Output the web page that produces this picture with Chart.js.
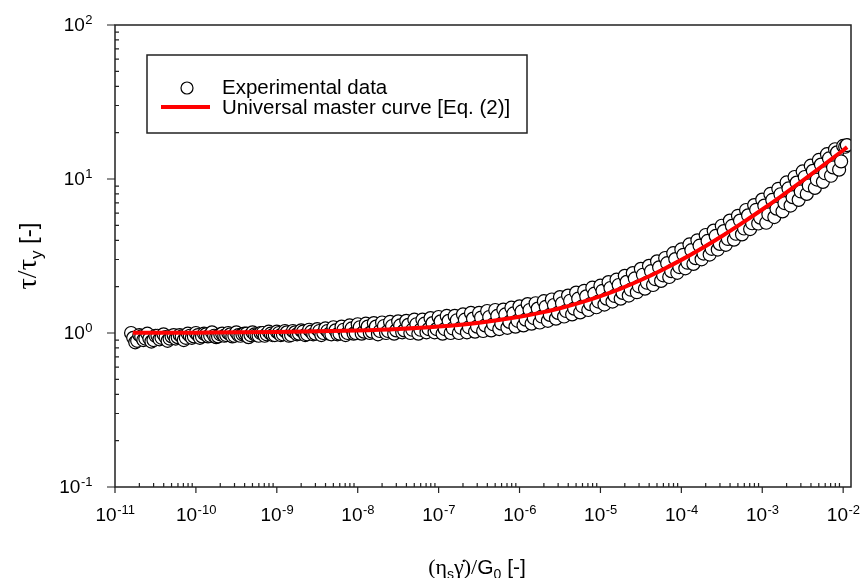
<!DOCTYPE html>
<html>
<head>
<meta charset="utf-8">
<script src="https://cdn.jsdelivr.net/npm/chart.js@4"></script>
<style>
  html, body { margin: 0; padding: 0; background: #fff; }
  #wrap { width: 862px; height: 578px; }
</style>
</head>
<body>
<div id="wrap"><canvas id="chartCanvas" width="862" height="578"></canvas></div>
<script>
// experimental points, outer upper strand
const upperX = [
  1.58e-11, 2.00e-11, 2.51e-11, 3.16e-11, 3.98e-11, 5.01e-11, 6.31e-11, 7.94e-11,
  1.00e-10, 1.26e-10, 1.58e-10, 2.00e-10, 2.51e-10, 3.16e-10, 3.98e-10, 5.01e-10, 6.31e-10, 7.94e-10,
  1.00e-9, 1.26e-9, 1.58e-9, 2.00e-9, 2.51e-9, 3.16e-9, 3.98e-9, 5.01e-9, 6.31e-9, 7.94e-9,
  1.00e-8, 1.26e-8, 1.58e-8, 2.00e-8, 2.51e-8, 3.16e-8, 3.98e-8, 5.01e-8, 6.31e-8, 7.94e-8,
  1.00e-7, 1.26e-7, 1.58e-7, 2.00e-7, 2.51e-7, 3.16e-7, 3.98e-7, 5.01e-7, 6.31e-7, 7.94e-7,
  1.00e-6, 1.26e-6, 1.58e-6, 2.00e-6, 2.51e-6, 3.16e-6, 3.98e-6, 5.01e-6, 6.31e-6, 7.94e-6,
  1.00e-5, 1.26e-5, 1.58e-5, 2.00e-5, 2.51e-5, 3.16e-5, 3.98e-5, 5.01e-5, 6.31e-5, 7.94e-5,
  1.00e-4, 1.26e-4, 1.58e-4, 2.00e-4, 2.51e-4, 3.16e-4, 3.98e-4, 5.01e-4, 6.31e-4, 7.94e-4,
  1.00e-3, 1.26e-3, 1.58e-3, 2.00e-3, 2.51e-3, 3.16e-3, 3.98e-3, 5.01e-3, 6.31e-3, 7.94e-3,
  1.00e-2, 1.11e-2
];
const upperY = [
  1.00, 0.97, 0.99, 0.96, 0.98, 0.95, 0.97, 0.99,
  1.00, 0.99, 1.01, 0.98, 1.00, 1.01, 0.99, 1.01, 1.00, 1.02,
  1.02, 1.03, 1.03, 1.04, 1.05, 1.06, 1.07, 1.09, 1.10, 1.12,
  1.14, 1.15, 1.16, 1.17, 1.18, 1.19, 1.20, 1.22, 1.22, 1.25,
  1.27, 1.29, 1.29, 1.32, 1.35, 1.35, 1.39, 1.41, 1.42, 1.46,
  1.49, 1.54, 1.56, 1.61, 1.65, 1.71, 1.75, 1.83, 1.88, 1.97,
  2.03, 2.14, 2.22, 2.35, 2.45, 2.61, 2.73, 2.92, 3.07, 3.30,
  3.49, 3.76, 4.00, 4.33, 4.62, 4.97, 5.37, 5.77, 6.29, 6.77,
  7.35, 8.00, 8.64, 9.50, 10.3, 11.2, 12.2, 13.3, 14.5, 15.6,
  16.4, 16.6
];
// inner upper strand
const upperMidX = [
  1.68e-11, 2.11e-11, 2.66e-11, 3.35e-11, 4.22e-11, 5.31e-11, 6.68e-11, 8.41e-11,
  1.06e-10, 1.33e-10, 1.68e-10, 2.11e-10, 2.66e-10, 3.35e-10, 4.22e-10, 5.31e-10, 6.68e-10, 8.41e-10,
  1.06e-9, 1.33e-9, 1.68e-9, 2.11e-9, 2.66e-9, 3.35e-9, 4.22e-9, 5.31e-9, 6.68e-9, 8.41e-9,
  1.06e-8, 1.33e-8, 1.68e-8, 2.11e-8, 2.66e-8, 3.35e-8, 4.22e-8, 5.31e-8, 6.68e-8, 8.41e-8,
  1.06e-7, 1.33e-7, 1.68e-7, 2.11e-7, 2.66e-7, 3.35e-7, 4.22e-7, 5.31e-7, 6.68e-7, 8.41e-7,
  1.06e-6, 1.33e-6, 1.68e-6, 2.11e-6, 2.66e-6, 3.35e-6, 4.22e-6, 5.31e-6, 6.68e-6, 8.41e-6,
  1.06e-5, 1.33e-5, 1.68e-5, 2.11e-5, 2.66e-5, 3.35e-5, 4.22e-5, 5.31e-5, 6.68e-5, 8.41e-5,
  1.06e-4, 1.33e-4, 1.68e-4, 2.11e-4, 2.66e-4, 3.35e-4, 4.22e-4, 5.31e-4, 6.68e-4, 8.41e-4,
  1.06e-3, 1.33e-3, 1.68e-3, 2.11e-3, 2.66e-3, 3.35e-3, 4.22e-3, 5.31e-3, 6.68e-3, 8.41e-3,
  1.06e-2
];
const upperMidY = [
  0.93, 0.95, 0.92, 0.96, 0.94, 0.97, 0.95, 0.96,
  0.97, 0.98, 0.96, 0.99, 0.98, 0.97, 0.99, 0.98, 1.00, 0.99,
  1.00, 1.01, 1.01, 1.02, 1.02, 1.03, 1.03, 1.04, 1.05, 1.07,
  1.09, 1.10, 1.10, 1.11, 1.11, 1.12, 1.13, 1.14, 1.15, 1.16,
  1.19, 1.20, 1.21, 1.22, 1.24, 1.26, 1.27, 1.29, 1.32, 1.34,
  1.38, 1.41, 1.44, 1.48, 1.52, 1.56, 1.62, 1.67, 1.73, 1.80,
  1.88, 1.96, 2.05, 2.15, 2.26, 2.39, 2.52, 2.67, 2.84, 3.02,
  3.22, 3.45, 3.69, 3.96, 4.27, 4.59, 4.96, 5.37, 5.81, 6.31,
  6.72, 7.31, 7.96, 8.68, 9.47, 10.3, 11.3, 12.4, 13.6, 14.9,
  16.2
];
// outer lower strand
const lowerX = [
  1.78e-11, 2.24e-11, 2.82e-11, 3.55e-11, 4.47e-11, 5.62e-11, 7.08e-11, 8.91e-11,
  1.12e-10, 1.41e-10, 1.78e-10, 2.24e-10, 2.82e-10, 3.55e-10, 4.47e-10, 5.62e-10, 7.08e-10, 8.91e-10,
  1.12e-9, 1.41e-9, 1.78e-9, 2.24e-9, 2.82e-9, 3.55e-9, 4.47e-9, 5.62e-9, 7.08e-9, 8.91e-9,
  1.12e-8, 1.41e-8, 1.78e-8, 2.24e-8, 2.82e-8, 3.55e-8, 4.47e-8, 5.62e-8, 7.08e-8, 8.91e-8,
  1.12e-7, 1.41e-7, 1.78e-7, 2.24e-7, 2.82e-7, 3.55e-7, 4.47e-7, 5.62e-7, 7.08e-7, 8.91e-7,
  1.12e-6, 1.41e-6, 1.78e-6, 2.24e-6, 2.82e-6, 3.55e-6, 4.47e-6, 5.62e-6, 7.08e-6, 8.91e-6,
  1.12e-5, 1.41e-5, 1.78e-5, 2.24e-5, 2.82e-5, 3.55e-5, 4.47e-5, 5.62e-5, 7.08e-5, 8.91e-5,
  1.12e-4, 1.41e-4, 1.78e-4, 2.24e-4, 2.82e-4, 3.55e-4, 4.47e-4, 5.62e-4, 7.08e-4, 8.91e-4,
  1.12e-3, 1.41e-3, 1.78e-3, 2.24e-3, 2.82e-3, 3.55e-3, 4.47e-3, 5.62e-3, 7.08e-3, 8.91e-3
];
const lowerY = [
  0.87, 0.90, 0.88, 0.91, 0.89, 0.92, 0.90, 0.93,
  0.93, 0.95, 0.94, 0.96, 0.95, 0.96, 0.94, 0.97, 0.96, 0.97,
  0.97, 0.96, 0.98, 0.97, 0.98, 0.97, 0.99, 0.98, 0.97, 0.99,
  0.99, 1.00, 0.98, 1.00, 0.99, 1.01, 1.00, 0.99, 1.01, 1.01,
  0.99, 1.00, 1.00, 1.01, 1.02, 1.03, 1.04, 1.06, 1.08, 1.10,
  1.12, 1.15, 1.17, 1.20, 1.24, 1.28, 1.32, 1.36, 1.41, 1.47,
  1.53, 1.60, 1.67, 1.75, 1.84, 1.94, 2.05, 2.18, 2.31, 2.46,
  2.63, 2.81, 3.01, 3.23, 3.48, 3.74, 4.04, 4.37, 4.73, 5.14,
  5.20, 5.66, 6.16, 6.72, 7.32, 8.00, 8.75, 9.58, 10.5, 11.5
];
// inner lower strand
const lowerMidX = [
  1.88e-11, 2.37e-11, 2.99e-11, 3.76e-11, 4.73e-11, 5.96e-11, 7.50e-11, 9.44e-11,
  1.19e-10, 1.50e-10, 1.88e-10, 2.37e-10, 2.99e-10, 3.76e-10, 4.73e-10, 5.96e-10, 7.50e-10, 9.44e-10,
  1.19e-9, 1.50e-9, 1.88e-9, 2.37e-9, 2.99e-9, 3.76e-9, 4.73e-9, 5.96e-9, 7.50e-9, 9.44e-9,
  1.19e-8, 1.50e-8, 1.88e-8, 2.37e-8, 2.99e-8, 3.76e-8, 4.73e-8, 5.96e-8, 7.50e-8, 9.44e-8,
  1.19e-7, 1.50e-7, 1.88e-7, 2.37e-7, 2.99e-7, 3.76e-7, 4.73e-7, 5.96e-7, 7.50e-7, 9.44e-7,
  1.19e-6, 1.50e-6, 1.88e-6, 2.37e-6, 2.99e-6, 3.76e-6, 4.73e-6, 5.96e-6, 7.50e-6, 9.44e-6,
  1.19e-5, 1.50e-5, 1.88e-5, 2.37e-5, 2.99e-5, 3.76e-5, 4.73e-5, 5.96e-5, 7.50e-5, 9.44e-5,
  1.19e-4, 1.50e-4, 1.88e-4, 2.37e-4, 2.99e-4, 3.76e-4, 4.73e-4, 5.96e-4, 7.50e-4, 9.44e-4,
  1.19e-3, 1.50e-3, 1.88e-3, 2.37e-3, 2.99e-3, 3.76e-3, 4.73e-3, 5.96e-3, 7.50e-3, 9.44e-3
];
const lowerMidY = [
  0.89, 0.92, 0.90, 0.93, 0.92, 0.94, 0.93, 0.95,
  0.95, 0.96, 0.95, 0.97, 0.96, 0.98, 0.97, 0.96, 0.98, 0.97,
  0.98, 0.97, 0.99, 0.98, 0.99, 1.00, 0.98, 0.99, 1.00, 1.00,
  1.02, 1.02, 1.03, 1.03, 1.04, 1.04, 1.05, 1.05, 1.06, 1.06,
  1.06, 1.07, 1.08, 1.09, 1.10, 1.12, 1.14, 1.15, 1.18, 1.20,
  1.22, 1.25, 1.28, 1.31, 1.35, 1.39, 1.44, 1.49, 1.54, 1.60,
  1.67, 1.74, 1.82, 1.91, 2.01, 2.12, 2.24, 2.37, 2.52, 2.68,
  2.86, 3.06, 3.28, 3.52, 3.79, 4.08, 4.41, 4.77, 5.16, 5.61,
  5.90, 6.42, 6.98, 7.62, 8.30, 9.08, 9.92, 10.9, 11.9, 13.0
];
// master curve
const curveX = [1.66e-11, 1e-10, 1e-9, 1e-8, 3.16e-8, 1e-7, 3.16e-7, 1e-6, 1.78e-6, 3.16e-6, 5.62e-6,
  1e-5, 1.78e-5, 3.16e-5, 5.62e-5, 1e-4, 1.78e-4, 3.16e-4, 5.62e-4, 1e-3, 1.78e-3, 3.16e-3, 5.62e-3, 1e-2, 1.12e-2];
const curveY = [1.002, 1.005, 1.014, 1.038, 1.062, 1.102, 1.167, 1.274, 1.351, 1.449, 1.575,
  1.737, 1.944, 2.209, 2.549, 2.984, 3.54, 4.25, 5.17, 6.34, 7.84, 9.76, 12.22, 15.37, 16.1];

// axis decades and their labels
const xDecades = [1e-11, 1e-10, 1e-9, 1e-8, 1e-7, 1e-6, 1e-5, 1e-4, 1e-3, 1e-2];
const xExps = ['-11', '-10', '-9', '-8', '-7', '-6', '-5', '-4', '-3', '-2'];
const yDecades = [0.1, 1, 10, 100];
const yExps = ['-1', '0', '1', '2'];

const SANS = '"Liberation Sans", Arial, sans-serif';
const SERIF = '"Liberation Serif", "Times New Roman", serif';
const AXIS = '#222';

// merge the strands, sorted along x so circles overlap in order
function pairs(xs, ys) { return xs.map((x, i) => ({x: x, y: ys[i]})); }
const points = pairs(upperX, upperY)
  .concat(pairs(upperMidX, upperMidY))
  .concat(pairs(lowerX, lowerY))
  .concat(pairs(lowerMidX, lowerMidY))
  .sort((a, b) => a.x - b.x);
const curve = pairs(curveX, curveY);

// draws the frame, ticks, labels and legend the way the original plot does
const decorations = {
  id: 'decorations',
  afterDraw(chart) {
    const ctx = chart.ctx;
    const xs = chart.scales.x, ys = chart.scales.y;
    const a = chart.chartArea;
    ctx.save();
    ctx.strokeStyle = AXIS;
    ctx.lineWidth = 1.5;
    ctx.strokeRect(a.left, a.top, a.right - a.left, a.bottom - a.top);

    // x ticks
    ctx.lineWidth = 1.2;
    ctx.beginPath();
    xDecades.forEach(d => {
      const px = xs.getPixelForValue(d);
      ctx.moveTo(px, a.bottom); ctx.lineTo(px, a.bottom + 6);
      for (let m = 2; m <= 9; m++) {
        const v = m * d;
        if (v >= xs.max) break;
        const mx = xs.getPixelForValue(v);
        ctx.moveTo(mx, a.bottom); ctx.lineTo(mx, a.bottom - 4);
      }
    });
    // y ticks
    yDecades.forEach(d => {
      const py = ys.getPixelForValue(d);
      ctx.moveTo(a.left - 8, py); ctx.lineTo(a.left, py);
      if (d < 100) {
        for (let m = 2; m <= 9; m++) {
          const my = ys.getPixelForValue(m * d);
          ctx.moveTo(a.left, my); ctx.lineTo(a.left + 4, my);
        }
      }
    });
    ctx.stroke();

    // tick labels, 10 with a raised exponent
    ctx.fillStyle = '#000';
    ctx.textBaseline = 'middle';
    ctx.textAlign = 'left';
    const big = '19px ' + SANS, small = '13px ' + SANS;
    xDecades.forEach((d, i) => {
      const px = xs.getPixelForValue(d);
      ctx.font = big; const w1 = ctx.measureText('10').width;
      ctx.font = small; const w2 = ctx.measureText(xExps[i]).width;
      const x0 = px - (w1 + w2) / 2;
      ctx.font = big; ctx.fillText('10', x0, 516);
      ctx.font = small; ctx.fillText(xExps[i], x0 + w1 + 0.5, 510);
    });
    yDecades.forEach((d, i) => {
      const py = ys.getPixelForValue(d);
      ctx.font = small; const w2 = ctx.measureText(yExps[i]).width;
      ctx.font = big; const w1 = ctx.measureText('10').width;
      const x0 = 92 - w1 - w2;
      ctx.fillText('10', x0, py + 1);
      ctx.font = small; ctx.fillText(yExps[i], x0 + w1 + 0.5, py - 5);
    });

    // x axis title: (eta_s gamma-dot)/G_0 [-]
    ctx.textBaseline = 'alphabetic';
    const xParts = [
      ['(\u03b7', '22px ' + SERIF, 0],
      ['s', '14px ' + SANS, 5],
      ['\u03b3\u0307)/', '22px ' + SERIF, 0],
      ['G', '21px ' + SANS, 0],
      ['0', '14px ' + SANS, 5],
      [' [-]', '21px ' + SANS, 0]
    ];
    let total = 0;
    xParts.forEach(p => { ctx.font = p[1]; total += ctx.measureText(p[0]).width; });
    let cx = 477 - total / 2;
    xParts.forEach(p => {
      ctx.font = p[1];
      ctx.fillText(p[0], cx, 574 + p[2]);
      cx += ctx.measureText(p[0]).width;
    });

    // y axis title: tau/tau_y [-], rotated
    const yParts = [
      ['\u03c4/\u03c4', '28px ' + SERIF, 0],
      ['y', '17px ' + SANS, 6],
      [' [-]', '24px ' + SANS, 0]
    ];
    total = 0;
    yParts.forEach(p => { ctx.font = p[1]; total += ctx.measureText(p[0]).width; });
    ctx.translate(36, (a.top + a.bottom) / 2);
    ctx.rotate(-Math.PI / 2);
    cx = -total / 2;
    yParts.forEach(p => {
      ctx.font = p[1];
      ctx.fillText(p[0], cx, p[2]);
      cx += ctx.measureText(p[0]).width;
    });
    ctx.setTransform(1, 0, 0, 1, 0, 0);

    // legend box
    ctx.lineWidth = 1.5;
    ctx.strokeStyle = AXIS;
    ctx.strokeRect(147, 55, 380, 78);
    ctx.beginPath();
    ctx.arc(187, 88, 6, 0, Math.PI * 2);
    ctx.fillStyle = '#fff';
    ctx.fill();
    ctx.lineWidth = 1.2;
    ctx.strokeStyle = '#000';
    ctx.stroke();
    ctx.beginPath();
    ctx.moveTo(161, 107); ctx.lineTo(210, 107);
    ctx.strokeStyle = '#ff0000';
    ctx.lineWidth = 4;
    ctx.stroke();
    ctx.fillStyle = '#000';
    ctx.font = '20.5px ' + SANS;
    ctx.textBaseline = 'middle';
    ctx.fillText('Experimental data', 222, 88);
    ctx.fillText('Universal master curve [Eq. (2)]', 222, 108);
    ctx.restore();
  }
};

const chart = new Chart(document.getElementById('chartCanvas').getContext('2d'), {
  data: {
    datasets: [
      {
        type: 'line',
        label: 'Universal master curve [Eq. (2)]',
        data: curve,
        borderColor: '#ff0000',
        borderWidth: 4,
        pointRadius: 0,
        cubicInterpolationMode: 'monotone',
        fill: false,
        order: 1
      },
      {
        type: 'scatter',
        label: 'Experimental data',
        data: points,
        pointStyle: 'circle',
        pointRadius: 6.5,
        pointBorderWidth: 1.2,
        pointBorderColor: '#000',
        pointBackgroundColor: '#fff',
        order: 2
      }
    ]
  },
  options: {
    responsive: false,
    animation: false,
    layout: { padding: { left: 115, right: 11, top: 25, bottom: 91 } },
    plugins: { legend: { display: false }, tooltip: { enabled: false } },
    scales: {
      x: { type: 'logarithmic', min: 1e-11, max: 0.0125, display: false },
      y: { type: 'logarithmic', min: 0.1, max: 100, display: false }
    }
  },
  plugins: [decorations]
});
</script>
</body>
</html>
